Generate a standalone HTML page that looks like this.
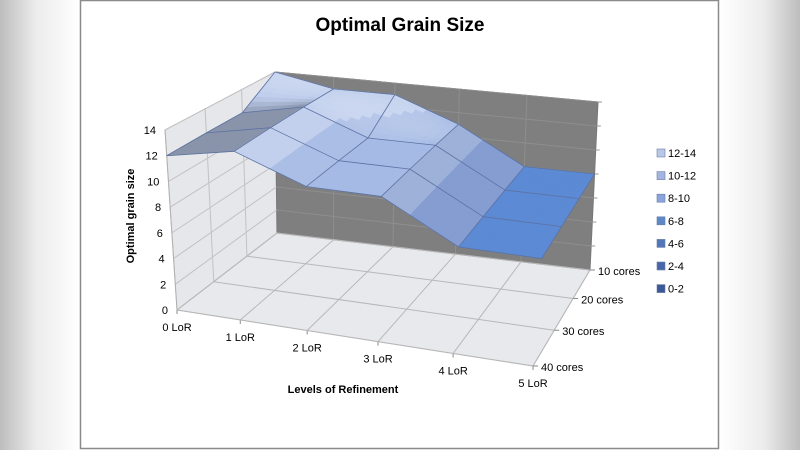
<!DOCTYPE html>
<html><head><meta charset="utf-8"><style>
html,body{margin:0;padding:0;width:800px;height:450px;overflow:hidden;background:#fff;}
svg{display:block;}
text{font-family:"Liberation Sans","DejaVu Sans",sans-serif;}
</style></head><body>
<svg id="chart" width="800" height="450" viewBox="0 0 800 450" xmlns="http://www.w3.org/2000/svg">
<defs>
<linearGradient id="lg" x1="0" x2="1" y1="0" y2="0"><stop offset="0" stop-color="#bdbdbd"/><stop offset="0.45" stop-color="#ececec"/><stop offset="1" stop-color="#ffffff"/></linearGradient>
<linearGradient id="rg" x1="1" x2="0" y1="0" y2="0"><stop offset="0" stop-color="#bdbdbd"/><stop offset="0.45" stop-color="#ececec"/><stop offset="1" stop-color="#ffffff"/></linearGradient>
</defs>
<rect x="0" y="0" width="80" height="450" fill="url(#lg)"/>
<rect x="720" y="0" width="80" height="450" fill="url(#rg)"/>
<rect x="80.5" y="0.5" width="638" height="448" fill="#fff" stroke="#8a8a8a" stroke-width="1.5"/>
<text x="400" y="31" text-anchor="middle" font-size="19" font-weight="bold" fill="#000">Optimal Grain Size</text>
<g id="plot"></g>
<text transform="translate(134,216) rotate(-90)" text-anchor="middle" font-size="11" font-weight="bold">Optimal grain size</text>
<text x="343" y="393" text-anchor="middle" font-size="11" font-weight="bold">Levels of Refinement</text>
<g id="legend"></g>
</svg>
<script>
const lorLabels = ["0 LoR","1 LoR","2 LoR","3 LoR","4 LoR","5 LoR"];
const coreLabels = ["10 cores","20 cores","30 cores","40 cores"];
const zTicks = [0,2,4,6,8,10,12,14];
const row10 = [14,13,13,11,8,8];
const row20 = [12,13,11,11,8,8];
const row30 = [12,13,11,11,8,8];
const row40 = [12,13,11,11,8,8];
const bandLabels = ["12-14","10-12","8-10","6-8","4-6","2-4","0-2"];

const rows = [row10,row20,row30,row40];
const NS = "http://www.w3.org/2000/svg";
const plot = document.getElementById('plot');
const ZMAX = 14;
const C = [[277,233],[590,270],[533,366],[177,310]];
const x0=C[0][0],y0=C[0][1],x1=C[1][0],y1=C[1][1],x2=C[2][0],y2=C[2][1],x3=C[3][0],y3=C[3][1];
const sx=x0-x1+x2-x3, sy=y0-y1+y2-y3;
const dx1=x1-x2,dx2=x3-x2,dy1=y1-y2,dy2=y3-y2;
const den=dx1*dy2-dx2*dy1;
const g=(sx*dy2-dx2*sy)/den, h=(dx1*sy-sx*dy1)/den;
const a=x1-x0+g*x1, b=x3-x0+h*x3, c=x0, d=y1-y0+g*y1, e=y3-y0+h*y3, f=y0;
const VBL=[-2,-161],VBR=[8,-168],VFR=[15,-188],VFL=[-12,-180];
function P(s,t,z){
  const w=g*s+h*t+1;
  const X=(a*s+b*t+c)/w, Y=(d*s+e*t+f)/w;
  const vx=(VBL[0]*(1-s)+VBR[0]*s)*(1-t)+(VFL[0]*(1-s)+VFR[0]*s)*t;
  const vy=(VBL[1]*(1-s)+VBR[1]*s)*(1-t)+(VFL[1]*(1-s)+VFR[1]*s)*t;
  return [X+vx*z/ZMAX, Y+vy*z/ZMAX];
}
function sAt(i){return i/(lorLabels.length-1);}
function tAt(j){return j/(coreLabels.length-1);}
function pts(arr){return arr.map(p=>p[0].toFixed(2)+','+p[1].toFixed(2)).join(' ');}
function poly(points,fill,stroke,sw,name){
  const el=document.createElementNS(NS,'polygon');
  el.setAttribute('points',pts(points));
  el.setAttribute('fill',fill);
  el.setAttribute('stroke',stroke||'none');
  if(sw)el.setAttribute('stroke-width',sw);
  el.setAttribute('stroke-linejoin','round');
  
  
  plot.appendChild(el);return el;
}
function line(p,q,col,sw,name){
  const el=document.createElementNS(NS,'line');
  el.setAttribute('x1',p[0]);el.setAttribute('y1',p[1]);el.setAttribute('x2',q[0]);el.setAttribute('y2',q[1]);
  el.setAttribute('stroke',col);el.setAttribute('stroke-width',sw);
  
  
  plot.appendChild(el);return el;
}
function txt(x,y,s,anchor,size,name,parent){
  const el=document.createElementNS(NS,'text');
  el.setAttribute('x',x);el.setAttribute('y',y);el.setAttribute('text-anchor',anchor);
  el.setAttribute('font-size',size);el.textContent=s;
  
  
  (parent||plot).appendChild(el);return el;
}
poly([P(0,0,0),P(0,0,ZMAX),P(0,1,ZMAX),P(0,1,0)],'#e6e7eb','#c8c8c8',1,'left-wall');
poly([P(0,0,0),P(0,0,ZMAX),P(1,0,ZMAX),P(1,0,0)],'#7f7f7f','#777',1,'back-wall');
poly([P(0,0,0),P(1,0,0),P(1,1,0),P(0,1,0)],'#e8e9ed','#c0c0c0',1,'floor');
zTicks.forEach(z=>{
  line(P(0,0,z),P(0,1,z),'#c2c2c2',1,'left-wall-gridline');
  line(P(0,0,z),P(1,0,z),'#8e8e8e',1,'back-wall-gridline');
  const q=P(1,0,z);line(q,[q[0]+4,q[1]],'#999',1,'z-tick-right');
  const p=P(0,1,z);
  txt(p[0]-9,p[1]+4,String(z),'end',11,'z-tick-label');
});
for(let j=1;j<coreLabels.length-1;j++){ line(P(0,tAt(j),0),P(0,tAt(j),ZMAX),'#c2c2c2',1,'left-wall-vgridline'); }
lorLabels.forEach((l,i)=>{
  const s=sAt(i);
  line(P(s,0,0),P(s,1,0),'#b8b8b8',1,'floor-gridline');
  if(i>0&&i<lorLabels.length-1) line(P(s,0,0),P(s,0,ZMAX),'#8e8e8e',1,'back-wall-vgridline');
  const p=P(s,1,0);
  line(p,[p[0],p[1]+4],'#888',1,'x-tick');
  txt(p[0],p[1]+21,l,'middle',11,'x-tick-label');
});
coreLabels.forEach((l,j)=>{
  const t=tAt(j);
  line(P(0,t,0),P(1,t,0),'#b8b8b8',1,'floor-gridline');
  const p=P(1,t,0);
  line(p,[p[0]+5,p[1]],'#888',1,'depth-tick');
  txt(p[0]+8,p[1]+5,l,'start',11,'depth-tick-label');
});
line(P(0,1,0),P(0,1,ZMAX),'#b0b0b0',1,'z-axis-line');
const bandCols=[[59,88,149],[72,101,168],[80,117,184],[92,138,212],[140,165,220],[165,186,228],[190,205,236]];
function val(u,v){
  const i=Math.min(Math.floor(u),lorLabels.length-2), j=Math.min(Math.floor(v),coreLabels.length-2);
  const fu=u-i, fv=v-j;
  return rows[j][i]*(1-fu)*(1-fv)+rows[j][i+1]*fu*(1-fv)+rows[j+1][i]*(1-fu)*fv+rows[j+1][i+1]*fu*fv;
}
const N=8;
const L=[0.45,0.35,1];const Ln=Math.hypot(...L);
const flat=1/Ln;
for(let j=0;j<coreLabels.length-1;j++){
  for(let i=0;i<lorLabels.length-1;i++){
    for(let q=0;q<N;q++){
      for(let p=0;p<N;p++){
        const u0=i+p/N,u1=i+(p+1)/N,v0=j+q/N,v1=j+(q+1)/N;
        const z00=val(u0,v0),z10=val(u1,v0),z11=val(u1,v1),z01=val(u0,v1);
        const zm=(z00+z10+z11+z01)/4;
        const dzdu=((z10+z11)-(z00+z01))/2/(1/N);
        const dzdv=((z01+z11)-(z00+z10))/2/(1/N);
        const k=0.45;
        const n=[-dzdu*k,-dzdv*k*0.6,1];const nn=Math.hypot(...n);
        const dot=(n[0]*L[0]+n[1]*L[1]+n[2]*L[2])/nn/Ln;
        let fct=1+1.3*(dot-flat);
        fct=Math.max(0.72,Math.min(1.25,fct));
        const band=Math.max(0,Math.min(6,Math.ceil(zm/2-1e-6)-1));
        const bc=bandCols[band];
        const col=bc.map(cv=>{let r=fct>1?cv+(255-cv)*(fct-1)*1.2:cv*fct;return Math.round(Math.max(0,Math.min(255,r)));});
        const cs='rgb('+col.join(',')+')';
        const su0=u0/5,su1=u1/5,tv0=v0/3,tv1=v1/3;
        poly([P(su0,tv0,z00),P(su1,tv0,z10),P(su1,tv1,z11),P(su0,tv1,z01)],cs,cs,0.6,'surface-patch');
      }
    }
  }
}
for(let j=0;j<coreLabels.length;j++){
  for(let i=0;i<lorLabels.length-1;i++){
    line(P(sAt(i),tAt(j),rows[j][i]),P(sAt(i+1),tAt(j),rows[j][i+1]),'#5c72a3',0.8,'surface-row-line');
  }
}
for(let i=0;i<lorLabels.length;i++){
  for(let j=0;j<coreLabels.length-1;j++){
    line(P(sAt(i),tAt(j),rows[j][i]),P(sAt(i),tAt(j+1),rows[j+1][i]),'#5c72a3',0.8,'surface-col-line');
  }
}
const leg=document.getElementById('legend');
const legCols=['#b9c8e6','#a3b4df','#8aa4dc','#5d89c9','#5276ba','#4866aa','#3c5896'];
bandLabels.forEach((l,k)=>{
  const y=153+k*22.6;
  const r=document.createElementNS(NS,'rect');
  r.setAttribute('x',657);r.setAttribute('y',y-4);r.setAttribute('width',8);r.setAttribute('height',8);
  r.setAttribute('fill',legCols[k]);r.setAttribute('stroke','#6b7ea8');r.setAttribute('stroke-width',0.6);
  
  
  leg.appendChild(r);
  txt(668,y+4,l,'start',11,'legend-entry',leg);
});
</script>
</body></html>
